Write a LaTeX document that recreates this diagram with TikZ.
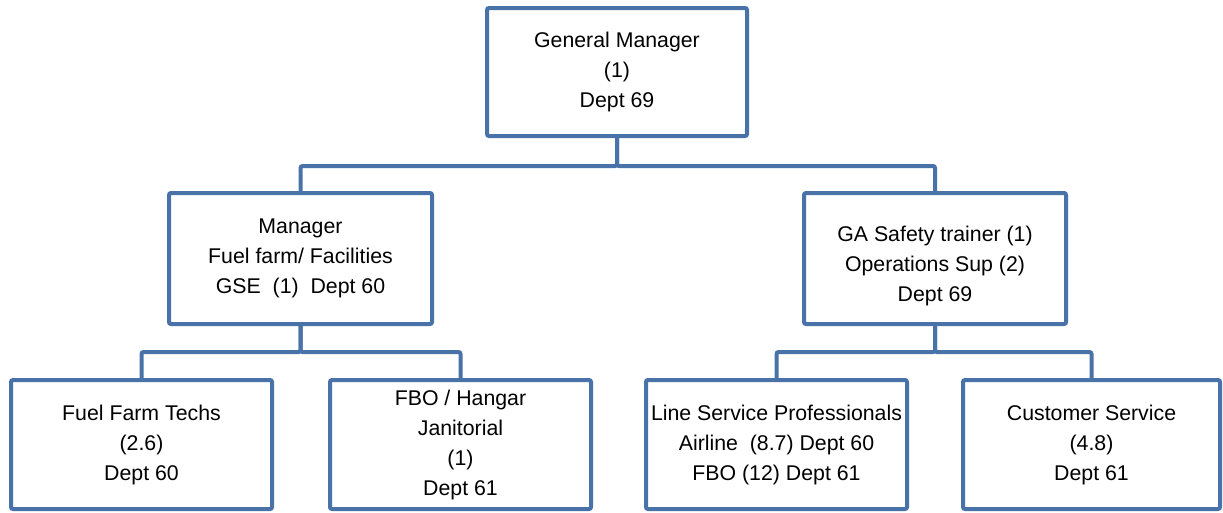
\documentclass[tikz,border=0pt]{standalone}
\usepackage{fontspec}
\setmainfont{Liberation Sans}
\usepackage{tikz}
\usetikzlibrary{calc}
\usetikzlibrary{positioning}
\definecolor{orgblue}{RGB}{72,114,168}

\begin{document}
\begin{tikzpicture}[
	x=1pt, y=-1pt,
	OrgBox/.style={draw=orgblue,line width=4pt,rounded corners=2pt,fill=white,
		align=center,inner sep=0pt,font=\fontsize{21.3}{30}\selectfont},
	Link/.style={draw=orgblue,line width=4pt,rounded corners=2pt}
	]
	\useasboundingbox (0,0) rectangle (1223,512);
	
	% top level
	\node[OrgBox,minimum width=260pt,minimum height=128pt] (gm) at (617,72)
		{General Manager\\(1)\\Dept 69};
	
	% second level
	\node[OrgBox,minimum width=263pt,minimum height=131pt] (mgr) at (300.5,258.5)
		{Manager\\Fuel farm/ Facilities\\GSE~~(1)~~Dept 60};
	\node[OrgBox,minimum width=262pt,minimum height=131pt] (ga) at (935,258.5)
		{\mbox{}\\GA Safety trainer (1)\\Operations Sup (2)\\Dept 69};
	
	% third level
	\node[OrgBox,minimum width=261pt,minimum height=129pt] (fuel) at (141.5,444.5)
		{Fuel Farm Techs\\(2.6)\\Dept 60};
	\node[OrgBox,minimum width=261pt,minimum height=129pt] (fbo) at (460.5,444.5)
		{FBO / Hangar\\Janitorial\\(1)\\Dept 61};
	\node[OrgBox,minimum width=261pt,minimum height=129pt] (line) at (776.5,444.5)
		{Line Service Professionals\\Airline~~(8.7) Dept 60\\FBO (12) Dept 61};
	\node[OrgBox,minimum width=257pt,minimum height=129pt] (cust) at (1091.5,444.5)
		{Customer Service\\(4.8)\\Dept 61};
	
	% connectors
	\draw[Link] (gm.south) -- ++(0,28) -| (mgr.north);
	\draw[Link] (gm.south) -- ++(0,28) -| (ga.north);
	\draw[Link] (mgr.south) -- ++(0,26) -| (fuel.north);
	\draw[Link] (mgr.south) -- ++(0,26) -| (fbo.north);
	\draw[Link] (ga.south) -- ++(0,26) -| (line.north);
	\draw[Link] (ga.south) -- ++(0,26) -| (cust.north);
\end{tikzpicture}
\end{document}
